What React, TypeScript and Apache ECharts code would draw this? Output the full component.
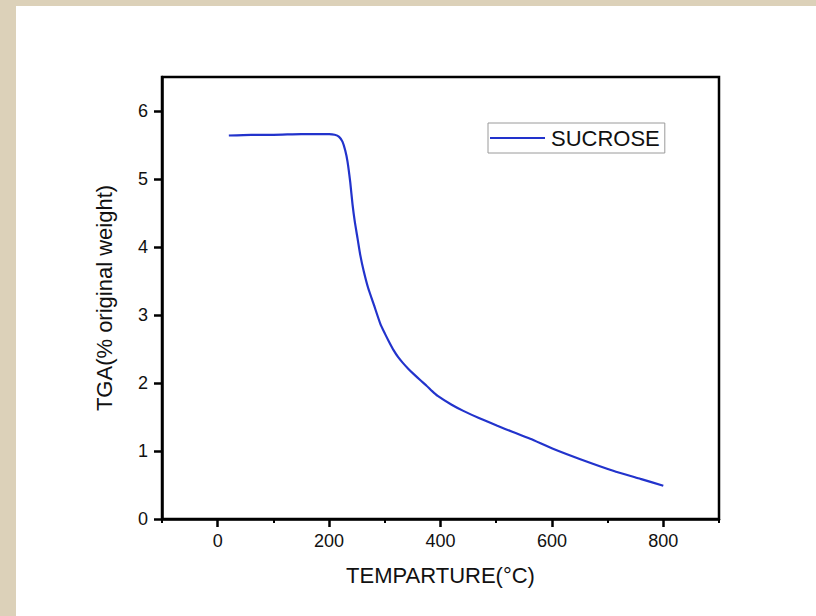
import React, { useEffect, useRef } from "react";
import * as echarts from "echarts";

const temperature = [20, 60, 100, 150, 200, 210, 218, 224, 229, 233, 238, 242, 246, 251, 256, 262, 270, 280, 292, 300, 308, 316, 324, 332, 342, 352, 364, 375, 385, 395, 420, 441, 470, 502, 530, 561, 603, 651, 710, 759, 800];
const tga = [5.64, 5.65, 5.65, 5.66, 5.66, 5.65, 5.62, 5.55, 5.42, 5.26, 4.95, 4.63, 4.38, 4.13, 3.88, 3.65, 3.4, 3.16, 2.87, 2.73, 2.6, 2.48, 2.38, 2.3, 2.21, 2.13, 2.04, 1.96, 1.88, 1.81, 1.68, 1.59, 1.48, 1.37, 1.28, 1.18, 1.03, 0.88, 0.71, 0.59, 0.49];
const xMajorTicks = [0, 200, 400, 600, 800];
const xMinorTicks = [-100, 100, 300, 500, 700, 900];
const yTicks = [0, 1, 2, 3, 4, 5, 6];
const seriesName = "SUCROSE";

const FONT = "'Liberation Sans', Arial, Helvetica, sans-serif";

export default function App() {
  const ref = useRef<HTMLDivElement>(null);
  useEffect(() => {
    if (!ref.current) return;
    const chart = echarts.init(ref.current, undefined, { renderer: "svg" });
    const data = temperature.map((t, i) => [t, tga[i]]);
    chart.setOption({
      animation: false,
      backgroundColor: "#ffffff",
      textStyle: { fontFamily: FONT },
      grid: {
        left: 146,
        top: 71,
        right: 97,
        bottom: 97,
        show: true,
        borderColor: "#000",
        borderWidth: 2.5,
        backgroundColor: "transparent",
      },
      legend: {
        left: 472,
        top: 117,
        orient: "horizontal",
        data: [{ name: seriesName, icon: "rect" }],
        borderColor: "#9a9a9a",
        borderWidth: 1,
        padding: [4, 5, 4, 2],
        itemWidth: 55,
        itemHeight: 2,
        textStyle: { fontFamily: FONT, fontSize: 22, color: "#111", padding: [0, 0, 0, 1] },
      },
      xAxis: [
        {
          type: "value",
          min: -100,
          max: 900,
          position: "bottom",
          name: "TEMPARTURE(°C)",
          nameLocation: "middle",
          nameGap: 45,
          nameTextStyle: { fontFamily: FONT, fontSize: 22, color: "#111" },
          axisLine: { show: true, onZero: false, lineStyle: { color: "#000", width: 2.5 } },
          axisTick: { show: true, customValues: xMajorTicks, length: 8, lineStyle: { color: "#000", width: 2.5 } },
          axisLabel: { show: true, customValues: xMajorTicks, margin: 13, fontSize: 18, color: "#111", fontFamily: FONT },
          splitLine: { show: false },
        },
        {
          type: "value",
          min: -100,
          max: 900,
          position: "bottom",
          axisLine: { show: false, onZero: false },
          axisTick: { show: true, customValues: xMinorTicks, length: 4, lineStyle: { color: "#000", width: 2 } },
          axisLabel: { show: false },
          splitLine: { show: false },
        },
      ],
      yAxis: {
        type: "value",
        min: 0,
        max: 6.5,
        name: "TGA(% original weight)",
        nameLocation: "middle",
        nameGap: 47,
        nameTextStyle: { fontFamily: FONT, fontSize: 22, color: "#111" },
        axisLine: { show: true, onZero: false, lineStyle: { color: "#000", width: 2.5 } },
        axisTick: { show: true, customValues: yTicks, length: 8, lineStyle: { color: "#000", width: 2.5 } },
        axisLabel: { show: true, customValues: yTicks, margin: 14, fontSize: 18, color: "#111", fontFamily: FONT },
        splitLine: { show: false },
      },
      series: [
        {
          name: seriesName,
          type: "line",
          xAxisIndex: 0,
          data,
          smooth: 0.2,
          showSymbol: false,
          symbol: "none",
          lineStyle: { color: "#2233cc", width: 2.2 },
          itemStyle: { color: "#2233cc" },
        },
      ],
    });
    return () => chart.dispose();
  }, []);

  return (
    <div
      style={{
        position: "absolute",
        left: 0,
        top: 0,
        width: 816,
        height: 616,
        background: "#dcd1b9",
        overflow: "hidden",
      }}
    >
      <div
        ref={ref}
        style={{ position: "absolute", left: 16, top: 6, width: 800, height: 610, background: "#fff" }}
      />
    </div>
  );
}
